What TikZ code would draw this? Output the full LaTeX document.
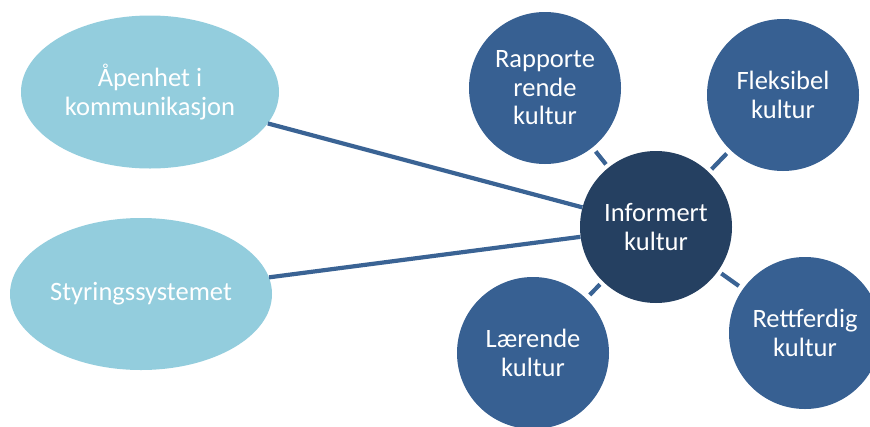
\documentclass[tikz,border=0pt]{standalone}
\usepackage{fontspec}
\setmainfont{Carlito}
\usetikzlibrary{shapes.geometric}
\definecolor{ovalblue}{HTML}{93CDDD}
\definecolor{satblue}{HTML}{376092}
\definecolor{hubblue}{HTML}{254061}
\definecolor{linkblue}{HTML}{3A6394}
\tikzset{
  txt/.style={text=white, align=center, font=\fontsize{26.5}{28.5}\selectfont},
  oval/.style={txt, ellipse, fill=ovalblue, inner sep=0pt},
  satellite/.style={txt, circle, fill=satblue, minimum size=152pt, inner sep=0pt},
  hub/.style={txt, circle, fill=hubblue, minimum size=152pt, inner sep=0pt},
  link/.style={draw=linkblue, line width=4.2pt},
  spoke/.style={link, shorten <=4pt, shorten >=5pt}
}
\begin{document}
\begin{tikzpicture}[x=1pt, y=-1pt]
  \useasboundingbox (0,0) rectangle (870,426);
  \fill[white] (0,0) rectangle (870,426);

  % centre and outer circles
  \node[hub] (info) at (656,227) {Informert\\kultur};
  \node[satellite] (rapp) at (545,88) {Rapporte\\rende\\kultur};
  \node[satellite] (flek) at (783,95) {Fleksibel\\kultur};
  \node[satellite] (rett) at (805,333) {Rettferdig\\kultur};
  \node[satellite] (laer) at (533,353) {Lærende\\kultur};

  % ovals on the left
  \node[oval, minimum width=258pt, minimum height=153pt] (apen) at (150,92) {Åpenhet i\\kommunikasjon};
  \node[oval, minimum width=262pt, minimum height=152pt] (styr) at (141,294) {Styringssystemet};

  % long links from the ovals to the centre
  \draw[link] (apen) -- (info);
  \draw[link] (styr) -- (info);

  % short spokes between the centre and the outer circles
  \draw[spoke] (info) -- (rapp);
  \draw[spoke] (info) -- (flek);
  \draw[spoke] (info) -- (rett);
  \draw[spoke] (info) -- (laer);
\end{tikzpicture}
\end{document}
